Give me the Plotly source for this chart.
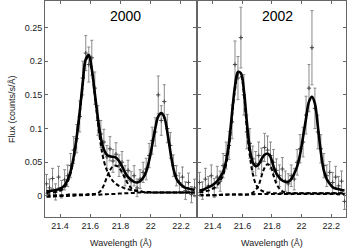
import plotly.graph_objects as go

# ---------------- data ----------------
wl = [21.31, 21.33, 21.35, 21.37, 21.39, 21.41, 21.43, 21.45, 21.47, 21.49,
      21.51, 21.53, 21.55, 21.57, 21.59, 21.61, 21.63, 21.65, 21.67, 21.69,
      21.71, 21.73, 21.75, 21.77, 21.79, 21.81, 21.83, 21.85, 21.87, 21.89,
      21.91, 21.93, 21.95, 21.97, 21.99, 22.01, 22.03, 22.05, 22.07, 22.09,
      22.11, 22.13, 22.15, 22.17, 22.19, 22.21, 22.23, 22.25, 22.27, 22.29]

# 2000 observed flux and errors
flux_2000 = [0.018, 0.012, 0.026, 0.006, 0.028, 0.010, 0.024, 0.030, 0.045, 0.068,
             0.085, 0.118, 0.175, 0.212, 0.195, 0.205, 0.160, 0.112, 0.092, 0.080,
             0.058, 0.070, 0.052, 0.062, 0.045, 0.050, 0.030, 0.038, 0.022, 0.030,
             0.012, 0.025, 0.035, 0.040, 0.060, 0.082, 0.095, 0.150, 0.112, 0.140,
             0.100, 0.075, 0.045, 0.030, 0.020, 0.028, 0.008, 0.020, 0.002, 0.012]
err_2000 = [0.014, 0.013, 0.015, 0.012, 0.016, 0.013, 0.015, 0.016, 0.018, 0.020,
            0.021, 0.023, 0.025, 0.026, 0.026, 0.026, 0.024, 0.022, 0.020, 0.019,
            0.017, 0.018, 0.017, 0.017, 0.016, 0.016, 0.015, 0.015, 0.014, 0.015,
            0.013, 0.014, 0.015, 0.016, 0.018, 0.020, 0.021, 0.028, 0.022, 0.025,
            0.021, 0.019, 0.016, 0.015, 0.014, 0.015, 0.013, 0.014, 0.012, 0.013]

# 2002 observed flux and errors
flux_2002 = [0.020, 0.008, 0.025, 0.015, 0.030, 0.012, 0.028, 0.022, 0.045, 0.060,
             0.075, 0.110, 0.195, 0.175, 0.235, 0.150, 0.095, 0.078, 0.055, 0.048,
             0.060, 0.052, 0.072, 0.068, 0.060, 0.050, 0.038, 0.030, 0.040, 0.022,
             0.018, 0.030, 0.025, 0.050, 0.070, 0.080, 0.120, 0.160, 0.220, 0.130,
             0.095, 0.070, 0.045, 0.030, 0.035, 0.020, 0.028, 0.015, 0.022, -0.008]
err_2002 = [0.015, 0.013, 0.016, 0.014, 0.016, 0.014, 0.016, 0.015, 0.018, 0.020,
            0.021, 0.025, 0.035, 0.032, 0.045, 0.030, 0.025, 0.022, 0.019, 0.018,
            0.020, 0.019, 0.021, 0.021, 0.020, 0.019, 0.017, 0.016, 0.017, 0.015,
            0.015, 0.016, 0.016, 0.019, 0.021, 0.022, 0.028, 0.035, 0.055, 0.030,
            0.025, 0.021, 0.018, 0.016, 0.016, 0.015, 0.016, 0.014, 0.015, 0.012]

# model curves
fit_2000 = [0.007, 0.0075, 0.008, 0.009, 0.010, 0.012, 0.016, 0.024, 0.037, 0.058,
            0.088, 0.125, 0.168, 0.203, 0.209, 0.188, 0.152, 0.116, 0.086, 0.069,
            0.061, 0.059, 0.058, 0.057, 0.052, 0.044, 0.035, 0.028, 0.024, 0.021,
            0.020, 0.022, 0.027, 0.036, 0.053, 0.076, 0.100, 0.118, 0.123, 0.117,
            0.095, 0.066, 0.041, 0.026, 0.019, 0.015, 0.012, 0.011, 0.010, 0.009]
fit_2002 = [0.008, 0.009, 0.011, 0.013, 0.015, 0.018, 0.022, 0.028, 0.036, 0.052,
            0.080, 0.123, 0.163, 0.184, 0.182, 0.157, 0.110, 0.070, 0.050, 0.044,
            0.047, 0.055, 0.061, 0.063, 0.058, 0.044, 0.033, 0.027, 0.023, 0.021,
            0.021, 0.025, 0.033, 0.044, 0.062, 0.088, 0.115, 0.140, 0.147, 0.137,
            0.103, 0.065, 0.038, 0.025, 0.018, 0.013, 0.011, 0.010, 0.009, 0.008]

# resonance-line component (dashed)
res_2000 = [0.004, 0.005, 0.005, 0.006, 0.007, 0.009, 0.013, 0.021, 0.034, 0.055,
            0.086, 0.123, 0.166, 0.201, 0.207, 0.186, 0.149, 0.110, 0.075, 0.052,
            0.038, 0.029, 0.022, 0.018, 0.015, 0.013, 0.011, 0.010, 0.009, 0.008,
            0.007, 0.007, 0.006, 0.006, 0.006, 0.005, 0.005, 0.005, 0.005, 0.005,
            0.005, 0.005, 0.005, 0.005, 0.005, 0.005, 0.005, 0.005, 0.005, 0.005]
res_2002 = [0.005, 0.006, 0.007, 0.008, 0.010, 0.012, 0.016, 0.022, 0.031, 0.047,
            0.075, 0.118, 0.158, 0.180, 0.178, 0.152, 0.100, 0.060, 0.033, 0.018,
            0.011, 0.008, 0.006, 0.005, 0.005, 0.004, 0.004, 0.004, 0.004, 0.004,
            0.004, 0.004, 0.004, 0.004, 0.004, 0.004, 0.004, 0.004, 0.004, 0.004,
            0.004, 0.004, 0.004, 0.004, 0.004, 0.004, 0.004, 0.004, 0.004, 0.004]

# intercombination-line component (dashed)
ic_2000 = [0.001, 0.001, 0.001, 0.001, 0.001, 0.001, 0.001, 0.002, 0.002, 0.002,
           0.002, 0.002, 0.002, 0.002, 0.003, 0.003, 0.003, 0.004, 0.008, 0.016,
           0.028, 0.038, 0.044, 0.045, 0.042, 0.035, 0.026, 0.018, 0.012, 0.009,
           0.008, 0.007, 0.006, 0.005, 0.005, 0.005, 0.005, 0.005, 0.005, 0.005,
           0.005, 0.005, 0.005, 0.005, 0.005, 0.005, 0.005, 0.005, 0.005, 0.005]
ic_2002 = [0.001, 0.001, 0.001, 0.001, 0.001, 0.001, 0.001, 0.002, 0.002, 0.002,
           0.002, 0.002, 0.002, 0.002, 0.002, 0.002, 0.002, 0.003, 0.005, 0.009,
           0.016, 0.030, 0.042, 0.047, 0.044, 0.031, 0.018, 0.011, 0.007, 0.005,
           0.004, 0.004, 0.004, 0.004, 0.004, 0.004, 0.004, 0.004, 0.004, 0.004,
           0.004, 0.004, 0.004, 0.004, 0.004, 0.004, 0.004, 0.004, 0.004, 0.004]

# continuum (dashed)
cont_2000 = [-0.001, -0.001, -0.001, -0.0005, -0.0005, 0.0, 0.0, 0.0, 0.0005, 0.0005,
             0.001, 0.001, 0.001, 0.0015, 0.0015, 0.0015, 0.002, 0.002, 0.002, 0.0025,
             0.0025, 0.003, 0.003, 0.003, 0.0035, 0.0035, 0.004, 0.004, 0.0045, 0.0045,
             0.005, 0.005, 0.005, 0.005, 0.005, 0.005, 0.005, 0.005, 0.005, 0.005,
             0.005, 0.005, 0.005, 0.005, 0.005, 0.005, 0.005, 0.005, 0.005, 0.005]
cont_2002 = [0.001, 0.001, 0.001, 0.001, 0.001, 0.001, 0.0012, 0.0014, 0.0016, 0.0018,
             0.002, 0.002, 0.002, 0.002, 0.002, 0.002, 0.0022, 0.0024, 0.0026, 0.0028,
             0.003, 0.003, 0.003, 0.003, 0.003, 0.003, 0.003, 0.003, 0.003, 0.003,
             0.003, 0.003, 0.003, 0.003, 0.003, 0.003, 0.003, 0.003, 0.003, 0.003,
             0.003, 0.003, 0.003, 0.003, 0.003, 0.003, 0.003, 0.003, 0.003, 0.003]

year_labels = ["2000", "2002"]
x_tickvals = [21.4, 21.6, 21.8, 22.0, 22.2]
x_ticktext = ["21.4", "21.6", "21.8", "22", "22.2"]
y_tickvals = [0, 0.05, 0.1, 0.15, 0.2, 0.25]
y_ticktext = ["0", "0.05", "0.1", "0.15", "0.2", "0.25"]

# ---------------- figure ----------------
FONT = "Liberation Sans, Arial, Helvetica, sans-serif"
fig = go.Figure()

panels = [
    ("x", "y", flux_2000, err_2000, fit_2000, [res_2000, ic_2000, cont_2000]),
    ("x2", "y2", flux_2002, err_2002, fit_2002, [res_2002, ic_2002, cont_2002]),
]
for xa, ya, flux, err, fit, comps in panels:
    fig.add_trace(go.Scatter(
        x=wl, y=flux, mode="markers", xaxis=xa, yaxis=ya,
        marker=dict(symbol="cross-thin", size=3, color="#444",
                    line=dict(width=1, color="#444")),
        error_y=dict(type="data", array=err, visible=True,
                     color="#8a8a8a", thickness=1, width=1.5),
        showlegend=False, hoverinfo="skip"))
    for comp in comps:
        fig.add_trace(go.Scatter(
            x=wl, y=comp, mode="lines", xaxis=xa, yaxis=ya,
            line=dict(color="black", width=2, dash="4px,2.5px", shape="spline"),
            showlegend=False, hoverinfo="skip"))
    fig.add_trace(go.Scatter(
        x=wl, y=fit, mode="lines", xaxis=xa, yaxis=ya,
        line=dict(color="black", width=2.6, shape="spline"),
        showlegend=False, hoverinfo="skip"))

axis_common = dict(showline=True, linecolor="#666", linewidth=1, mirror="ticks",
                   ticks="inside", ticklen=3, tickcolor="#666", showgrid=False,
                   zeroline=False, tickfont=dict(family=FONT, size=9, color="#222"))

fig.update_layout(
    width=347, height=251,
    margin=dict(l=45, r=1, t=1, b=34),
    paper_bgcolor="white", plot_bgcolor="white",
    xaxis=dict(domain=[0, 0.5017], range=[21.3, 22.3], anchor="y",
               tickvals=x_tickvals, ticktext=x_ticktext, **axis_common),
    xaxis2=dict(domain=[0.5083, 1], range=[21.3, 22.3], anchor="y2",
                tickvals=x_tickvals, ticktext=x_ticktext, **axis_common),
    yaxis=dict(range=[-0.0312, 0.2893], anchor="x",
               tickvals=y_tickvals, ticktext=y_ticktext, **axis_common),
    yaxis2=dict(range=[-0.0312, 0.2893], anchor="x2", showticklabels=False,
                tickvals=y_tickvals, **axis_common),
)

annotations = [
    dict(text=year_labels[0], xref="x", yref="y", x=21.836, y=0.2676,
         showarrow=False, font=dict(family=FONT, size=14, color="black")),
    dict(text=year_labels[1], xref="x2", yref="y2", x=21.84, y=0.2676,
         showarrow=False, font=dict(family=FONT, size=14, color="black")),
    dict(text="Wavelength (Å)", xref="x domain", yref="paper", x=0.5, y=0,
         yshift=-26, yanchor="middle", showarrow=False,
         font=dict(family=FONT, size=9, color="#222")),
    dict(text="Wavelength (Å)", xref="x2 domain", yref="paper", x=0.5, y=0,
         yshift=-26, yanchor="middle", showarrow=False,
         font=dict(family=FONT, size=9, color="#222")),
    dict(text="Flux (counts/s/Å)", xref="paper", yref="y domain", x=0, y=0.5,
         xshift=-33, xanchor="center", yanchor="middle", textangle=-90,
         showarrow=False, font=dict(family=FONT, size=9, color="#222")),
]
fig.update_layout(annotations=annotations)

fig.write_html("out.html", config={"displayModeBar": False},
               post_script="document.body.style.margin='0px';document.body.style.overflow='hidden';")
